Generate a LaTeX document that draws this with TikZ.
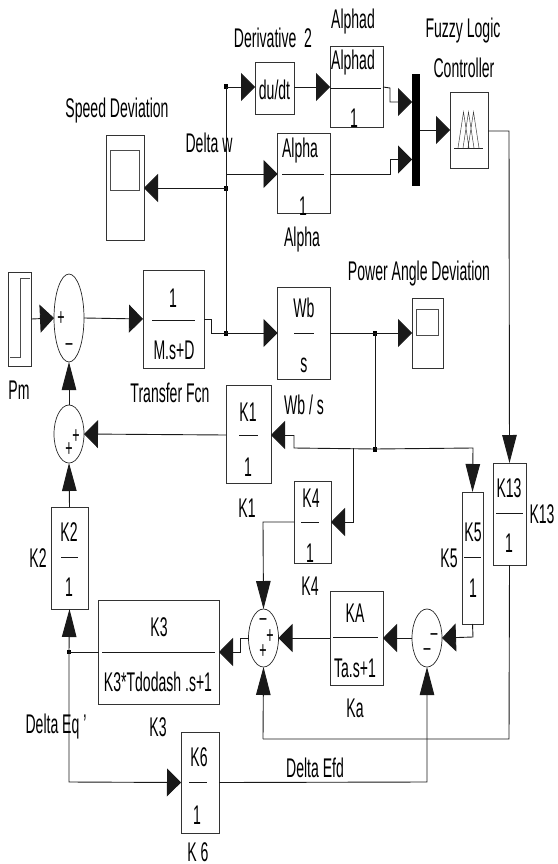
\documentclass[tikz,border=0pt]{standalone}
\usepackage{fontspec}
\setmainfont[FakeStretch=0.52]{Liberation Sans}
\usetikzlibrary{arrows.meta,shapes.geometric}
\tikzset{
  x=1pt,y=-1pt,
  block/.style={draw=black!80,line width=0.8pt,fill=white,inner sep=0,outer sep=0,rectangle},
  sumj/.style={draw=black!85,line width=0.7pt,fill=white,ellipse,inner sep=0,outer sep=0,minimum width=30pt,minimum height=58pt},
  lab/.style={inner sep=0,outer sep=0,font=\fontsize{27}{29}\selectfont,text=black},
  sgn/.style={inner sep=0,outer sep=0,font=\fontsize{24}{26}\selectfont},
  wire/.style={draw=black!90,line width=0.9pt},
  arrh/.style={wire,-{Triangle[length=14pt,width=28pt]}},
  arrv/.style={wire,-{Triangle[length=28pt,width=14.5pt]}},
  dot/.style={fill=black,inner sep=0,outer sep=0,minimum width=4pt,minimum height=5pt,rectangle},
  frac/.style={draw=black!90,line width=0.9pt},
  inner/.style={draw=black!70,line width=0.9pt},
}
\newcommand{\Blk}[5]{%
  \pgfmathsetmacro{\bw}{#4-#2}\pgfmathsetmacro{\bh}{#5-#3}%
  \pgfmathsetmacro{\bx}{(#4+#2)/2}\pgfmathsetmacro{\by}{(#5+#3)/2}%
  \node[block,minimum width=\bw pt,minimum height=\bh pt] (#1) at (\bx,\by) {};}
\begin{document}
\begin{tikzpicture}
\useasboundingbox (0,0) rectangle (557,864);
% blocks
\Blk{Pm}{8.5}{272}{31.5}{366}
\Blk{TF}{143}{270}{204}{368}
\Blk{SD}{106}{135}{144}{240}
\Blk{DU}{255}{62}{294}{114}
\Blk{AD}{330}{46}{383}{127}
\Blk{AL}{277.5}{133}{330}{213}
\Blk{WB}{277.5}{287}{330}{379}
\Blk{PA}{412}{298}{443}{368}
\Blk{FZ}{450}{92}{488}{168}
\Blk{KT}{493}{463}{526}{565}
\Blk{KO}{226}{385}{271}{483}
\Blk{KF}{294}{481}{331}{563}
\Blk{KV}{462}{492}{483}{624}
\Blk{KA}{330}{591}{383}{685}
\Blk{KH}{98.5}{600}{219}{704}
\Blk{KB}{51}{507}{88}{609}
\Blk{KS}{181}{732}{219}{833}
\node[fill=black,inner sep=0,outer sep=0,minimum width=8pt,minimum height=112pt] (MX) at (416,130) {};
% sums
\node[sumj,minimum height=88pt] (S1) at (69,318) {};
\node[sumj] (S2) at (69,434) {};
\node[sumj] (S3) at (263.5,638) {};
\node[sumj] (S4) at (427,638) {};
% junctions
\node[dot] (J1) at (226,87) {};
\node[dot] (J2) at (226,188) {};
\node[dot] (J3) at (226,333) {};
\node[dot] (J4) at (375,333) {};
\node[dot] (J5) at (375,449) {};
\node[dot,minimum width=4pt,minimum height=4pt] (J6) at (69,652) {};
\coordinate (A1) at (226,174);
\coordinate (T1) at (353,448);
\coordinate (T2) at (263,522);
\coordinate (T3) at (263,739);
\coordinate (T4) at (509,739);
% wires
\draw[arrh] (Pm.east) -- (S1.west);
\draw[arrh] (S1.east) -- (TF.west);
\draw[wire] (TF.east) -- (211,319) -- (211,333) -- (J3.center);
\draw[arrh] (J3.center) -- (WB.west);
\draw[wire] (J1.center) -- (J3.center);
\draw[arrh] (J1.center) -- (DU.west |- J1);
\draw[arrh] (A1) -- (AL.west |- A1);
\draw[arrh] (J2.center) -- (SD.east |- J2);
\draw[arrh] (DU.east |- J1) -- (AD.west |- J1);
\draw[arrh] (AD.east |- J1) -- (390,88) -- (390,102) -- (MX.west |- 0,102);
\draw[arrh] (AL.east |- A1) -- (390,174) -- (390,159.5) -- (MX.west |- 0,159.5);
\draw[arrh] (MX.east |- FZ.east) -- (FZ.west);
\draw[arrh] (WB.east |- J3) -- (PA.west |- J3);
\draw[wire] (J4.center) -- (J5.center);
\draw[arrv] (FZ.east |- 0,131) -- (509,131) -- (KT.north);
\draw[wire] (KT.south) -- (T4) -- (T3);
\draw[arrv] (T3) -- (S3.south);
\draw[arrv] (J5.center) -- (473,448) -- (KV.north);
\draw[wire] (J5.center) -- (294,448) -- (294,435);
\draw[arrh] (294,435) -- (KO.east |- 0,435);
\draw[arrh] (T1) -- (353,522) -- (KF.east |- T2);
\draw[arrv] (KF.west |- T2) -- (T2) -- (S3.north);
\draw[arrh] (KO.west |- 0,435) -- (S2.east);
\draw[arrh] (KV.south) -- (473,637) -- (S4.east);
\draw[arrh] (S4.west) -- (KA.east |- S4);
\draw[arrh] (KA.west |- S4) -- (S3.east);
\draw[arrh] (S3.west) -- (240,638) -- (240,652) -- (KH.east);
\draw[wire] (KH.west) -- (J6.center);
\draw[arrv] (J6.center) -- (KB.south);
\draw[arrv] (KB.north) -- (S2.south);
\draw[arrv] (S2.north) -- (S1.south);
\draw[arrh] (J6.center) -- (69,782) -- (KS.west);
\draw[arrv] (KS.east) -- (427,782) -- (S4.south);
% scope and block icons
\draw[inner] (10,357) -- (20,357) -- (20,278) -- (30,278);
\draw[inner] (110,150) rectangle (139,190);
\draw[inner] (416,309) rectangle (438,335);
\draw[draw=black!85,line width=0.7pt] (454,148) -- (483,148);
\draw[draw=black!75,line width=0.5pt] (458,148) -- (463.5,112) -- (469,148) (463,148) -- (468.5,112) -- (474,148) (468,148) -- (473.5,112) -- (479,148);
% fraction bars
\draw[frac] (152,320) -- (195,320);
\draw[frac] (294,333) -- (314,333);
\draw[frac] (330,88) -- (381,88);
\draw[frac] (282,174) -- (324,174);
\draw[frac] (496,513) -- (523,513);
\draw[frac] (239,435) -- (258,435);
\draw[frac] (301,522) -- (319,522);
\draw[frac] (464,557) -- (481,557);
\draw[frac] (333,637) -- (378,637);
\draw[frac] (102,652) -- (215,652);
\draw[frac] (61,557) -- (78,557);
\draw[frac] (189,782) -- (207,782);
% block texts
\node[lab] (t1) at (173,298) {1};
\node[lab] (t2) at (174,350) {M.s+D};
\node[lab] (t3) at (304,308) {Wb};
\node[lab] (t4) at (304,365) {s};
\node[lab] (t5) at (274.5,90) {du/dt};
\node[lab] (t6) at (353,63) {Alphad};
\node[lab] (t7) at (354,118) {1};
\node[lab] (t8) at (300,151) {Alpha};
\node[lab] (t9) at (303,206) {1};
\node[lab] (t10) at (509,488) {K13};
\node[lab] (t11) at (509,543) {1};
\node[lab] (t12) at (248,412) {K1};
\node[lab] (t13) at (248,467) {1};
\node[lab] (t14) at (311,498) {K4};
\node[lab] (t15) at (310,553) {1};
\node[lab] (t16) at (473,532) {K5};
\node[lab] (t17) at (473,588) {1};
\node[lab] (t18) at (355,613) {KA};
\node[lab] (t19) at (355,668) {Ta.s+1};
\node[lab] (t20) at (159,627) {K3};
\node[lab] (t21) at (158,682) {K3*Tdodash .s+1};
\node[lab] (t22) at (69,532) {K2};
\node[lab] (t23) at (69,587) {1};
\node[lab] (t24) at (199,757) {K6};
\node[lab] (t25) at (197,815) {1};
% outside labels
\node[lab] (l1) at (19,390) {Pm};
\node[lab] (l2) at (170,393) {Transfer Fcn};
\node[lab] (l3) at (117,111) {Speed Deviation};
\node[lab] (l4) at (209,143) {Delta w};
\node[lab] (l5) at (273,38) {Derivative\ \ 2};
\node[lab] (l6) at (353,22) {Alphad};
\node[lab] (l7) at (302,240) {Alpha};
\node[lab] (l8) at (463,31) {Fuzzy Logic};
\node[lab] (l9) at (464,68) {Controller};
\node[lab] (l10) at (419,274) {Power Angle Deviation};
\node[lab] (l11) at (304,405) {Wb / s};
\node[lab] (l12) at (247,508) {K1};
\node[lab] (l13) at (310,586) {K4};
\node[lab] (l14) at (449,558) {K5};
\node[lab] (l15) at (542,514) {K13};
\node[lab] (l16) at (355,708) {Ka};
\node[lab] (l17) at (38,558) {K2};
\node[lab] (l18) at (56,727) {Delta Eq '};
\node[lab] (l19) at (158,727) {K3};
\node[lab] (l20) at (315,768) {Delta Efd};
\node[lab] (l21) at (198,852) {K 6};
% signs
\node[sgn] (p1) at (61,319) {+};
\node[sgn] (p2) at (69,347) {–};
\node[sgn] (p3) at (76,437) {+};
\node[sgn] (p4) at (69,450) {+};
\node[sgn] (p5) at (263,622) {–};
\node[sgn] (p6) at (270,637) {+};
\node[sgn] (p7) at (263,652) {+};
\node[sgn] (p8) at (434,637) {–};
\node[sgn] (p9) at (427,652) {–};
\end{tikzpicture}
\end{document}
